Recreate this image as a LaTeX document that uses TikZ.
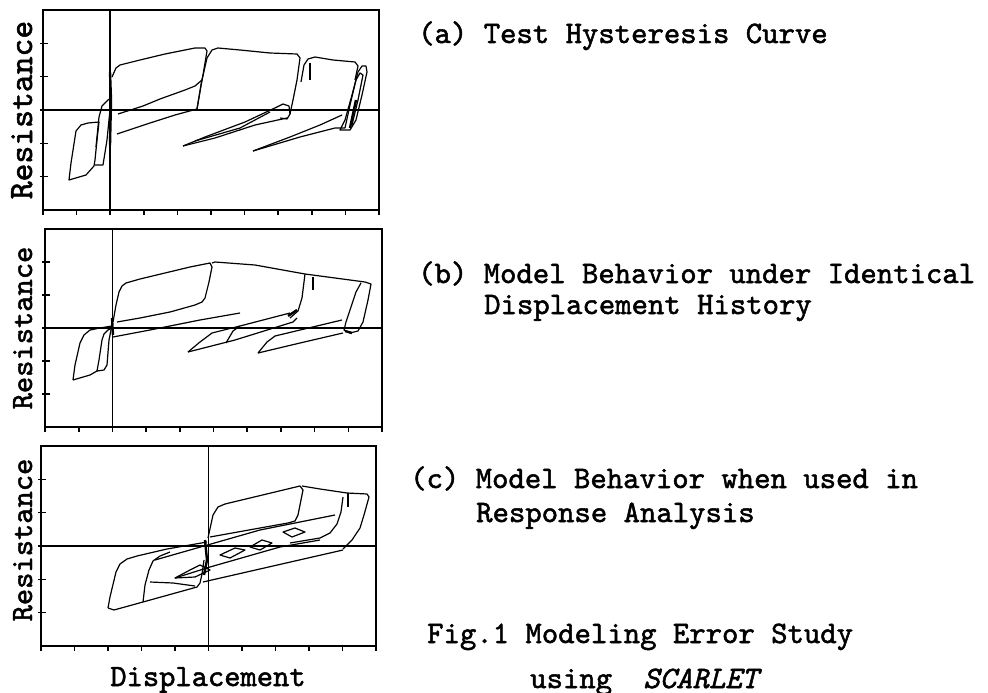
\documentclass[tikz,border=0pt]{standalone}
\usepackage{fontspec}
\newfontfamily\typew{lmmono10-regular.otf}[ItalicFont=lmmono10-italic.otf,FakeBold=1.6]

\tikzset{
  plotframe/.style={line width=1.6pt},
  loopline/.style={line width=1.2pt, line join=round},
  captext/.style={font=\typew\fontsize{31.2}{34}\selectfont, inner sep=0pt, anchor=base west},
  axistext/.style={font=\typew\fontsize{31}{34}\selectfont, inner sep=0pt, anchor=base},
}

% frame, axes and ticks of one hysteresis plot: left, top, width, height, axis column
\newcommand{\hystpanel}[5]{%
  \draw[plotframe] (#1,#2) rectangle ++(#3,#4);
  \draw[plotframe] ({#1+#5*#3/10},#2) -- ++(0,#4);
  \draw[plotframe] (#1,{#2+#4/2}) -- ++(#3,0);
  \foreach \k in {1,...,5} \draw[plotframe] (#1-3,{#2+\k*#4/6}) -- ++(8,0);
  \foreach \k in {0,...,10} \draw[plotframe] ({#1+\k*#3/10},#2+#4) -- ++(0,5);
}

\begin{document}
\begin{tikzpicture}[x=1pt,y=-1pt]
\useasboundingbox (0,0) rectangle (988,693);

% (a) test curve
\hystpanel{43}{10}{336}{200}{2}
\draw[loopline] (69,180) -- (71,163) -- (76,131) -- (81,125) -- (88,123) -- (99,122) -- (97,140) -- (95,160) -- (94,166) -- (86,175) -- cycle;
\draw[loopline] (95,165) -- (103,165) -- (107,140) -- (110,110) -- (111,98) -- (108,100) -- (102,106) -- (99,117) -- (96,147);
\draw[line width=2.4pt] (110,72) -- (111,100) -- (110,145);
\draw[loopline] (112,77) -- (116,68) -- (120,65) -- (140,60) -- (165,54) -- (185,50) -- (195,48) -- (205,48) -- (207,51) -- (203,75) -- (201,85) -- (197,109);
\draw[loopline] (202,80) -- (195,86) -- (185,90) -- (160,99) -- (143,106) -- (118,114);
\draw[loopline] (117,134) -- (150,123) -- (175,115) -- (197,109);
\draw[loopline] (197,109) -- (202,80) -- (207,58) -- (212,50) -- (218,48) -- (240,50) -- (270,53) -- (297,54) -- (300,58) -- (297,80) -- (293,100) -- (290,114);
\draw[loopline] (277,107) -- (283,104) -- (289,106) -- (290,114) -- (287,119) -- (280,118);
\draw[loopline] (183,146) -- (205,137) -- (245,122) -- (277,107);
\draw[loopline] (183,146) -- (215,138) -- (255,125) -- (287,118);
\draw[loopline] (195,141) -- (240,128) -- (270,112);
\draw[loopline] (301,82) -- (304,65) -- (308,59) -- (315,57) -- (333,60) -- (355,62) -- (358,66) -- (355,80);
\draw[loopline] (310,63) -- (310,80);
\draw[loopline] (253,151) -- (290,137) -- (320,125) -- (342,115);
\draw[loopline] (253,151) -- (300,137) -- (335,128) -- (345,128);
\draw[loopline] (340,130) -- (345,120) -- (352,95) -- (358,72) -- (362,66) -- (366,66) -- (367,72) -- (362,95) -- (356,120) -- (350,130) -- cycle;
\draw[loopline] (345,128) -- (350,105) -- (356,80) -- (360,73) -- (363,75) -- (358,100) -- (352,125);
\draw[line width=2.4pt] (350,128) -- (356,100);

% (b) model, same displacement history
\hystpanel{45}{229}{337}{198}{2}
\draw[loopline] (73,380) -- (75,365) -- (80,343) -- (84,335) -- (90,330) -- (100,328) -- (112,326);
\draw[loopline] (73,380) -- (90,375) -- (97,371) -- (99,360) -- (102,340) -- (104,334) -- (108,330) -- (112,328);
\draw[loopline] (97,371) -- (104,370) -- (107,365) -- (109,340) -- (112,325);
\draw[line width=2.4pt] (112,318) -- (113,335);
\draw[loopline] (113,322) -- (116,305) -- (119,292) -- (122,286) -- (126,283) -- (140,279) -- (165,273) -- (190,267) -- (210,263) -- (212,267) -- (209,282) -- (205,298) -- (202,302) -- (195,305) -- (170,312) -- (140,318) -- (117,322);
\draw[loopline] (212,263) -- (215,262) -- (255,265) -- (305,274) -- (365,282) -- (371,284) -- (368,300) -- (363,322) -- (358,331) -- (350,333) -- (344,330) -- (346,322) -- (356,292) -- (361,283);
\draw[loopline] (305,274) -- (302,298) -- (298,311) -- (290,318);
\draw[loopline] (313,277) -- (313,290);
\draw[line width=2.4pt] (288,316) -- (297,310);
\draw[line width=2.4pt] (345,331) -- (352,333);
\draw[loopline] (113,337) -- (150,330) -- (200,320) -- (240,313);
\draw[loopline] (188,352) -- (200,342) -- (212,333) -- (240,326) -- (290,313);
\draw[loopline] (188,352) -- (235,340) -- (293,322) -- (297,318);
\draw[loopline] (226,343) -- (233,331) -- (240,326);
\draw[loopline] (258,353) -- (267,342) -- (275,336) -- (342,320);
\draw[loopline] (258,353) -- (300,343) -- (343,333);

% (c) model inside response analysis
\hystpanel{41}{446}{335}{200}{5}
\draw[loopline] (108,608) -- (110,597) -- (116,572) -- (120,564) -- (127,559) -- (137,556) -- (167,549) -- (207,542);
\draw[loopline] (108,608) -- (114,610) -- (143,602) -- (197,587) -- (200,583) -- (202,574) -- (204,560);
\draw[loopline] (143,602) -- (145,585) -- (149,570) -- (153,561) -- (160,556) -- (170,552);
\draw[loopline] (150,582) -- (173,583) -- (195,586);
\draw[loopline] (208,538) -- (213,515) -- (218,507) -- (225,504) -- (300,486) -- (303,490) -- (298,515) -- (295,521) -- (288,523) -- (260,528) -- (210,537);
\draw[loopline] (302,486) -- (320,489) -- (347,493) -- (367,494) -- (369,497) -- (364,515) -- (360,528) -- (352,540) -- (343,549);
\draw[loopline] (343,497) -- (341,512) -- (337,524) -- (330,533) -- (320,538) -- (290,543);
\draw[loopline] (348,493) -- (348,507);
\draw[loopline] (203,582) -- (343,550);
\draw[loopline] (155,560) -- (190,550) -- (260,530) -- (335,515);
\draw[loopline] (175,578) -- (210,567) -- (280,547) -- (320,540);
\draw[loopline] (175,578) -- (190,570) -- (200,565) -- (210,570) -- (195,577) -- cycle;
\draw[loopline] (220,555) -- (235,548) -- (245,550) -- (230,558) -- cycle;
\draw[loopline] (250,547) -- (262,540) -- (272,543) -- (260,550) -- cycle;
\draw[loopline] (283,532) -- (295,528) -- (305,532) -- (292,537) -- cycle;
\draw[line width=2.4pt] (205,540) -- (207,560) -- (204,575);

% axis names
\node[axistext, rotate=90, font=\typew\fontsize{34}{36}\selectfont] (resa) at (32,110) {Resistance};
\node[axistext, rotate=90] (resb) at (32,328) {Resistance};
\node[axistext, rotate=90] (resc) at (32,540) {Resistance};
\node[axistext] (disp) at (208,686) {Displacement};

% captions
\node[captext] (capa) at (418,43) {(a) Test Hysteresis Curve};
\node[captext] (capb) at (418,283) {(b) Model Behavior under Identical};
\node[captext] (capbb) at (484,314) {Displacement History};
\node[captext] (capc) at (410,488) {(c) Model Behavior when used in};
\node[captext] (capcc) at (476,522) {Response Analysis};
\node[captext] (fig) at (427,643) {Fig.1 Modeling Error Study};
\node[captext] (figb) at (530,688) {using\hspace{1em}\itshape SCARLET};
\end{tikzpicture}
\end{document}
